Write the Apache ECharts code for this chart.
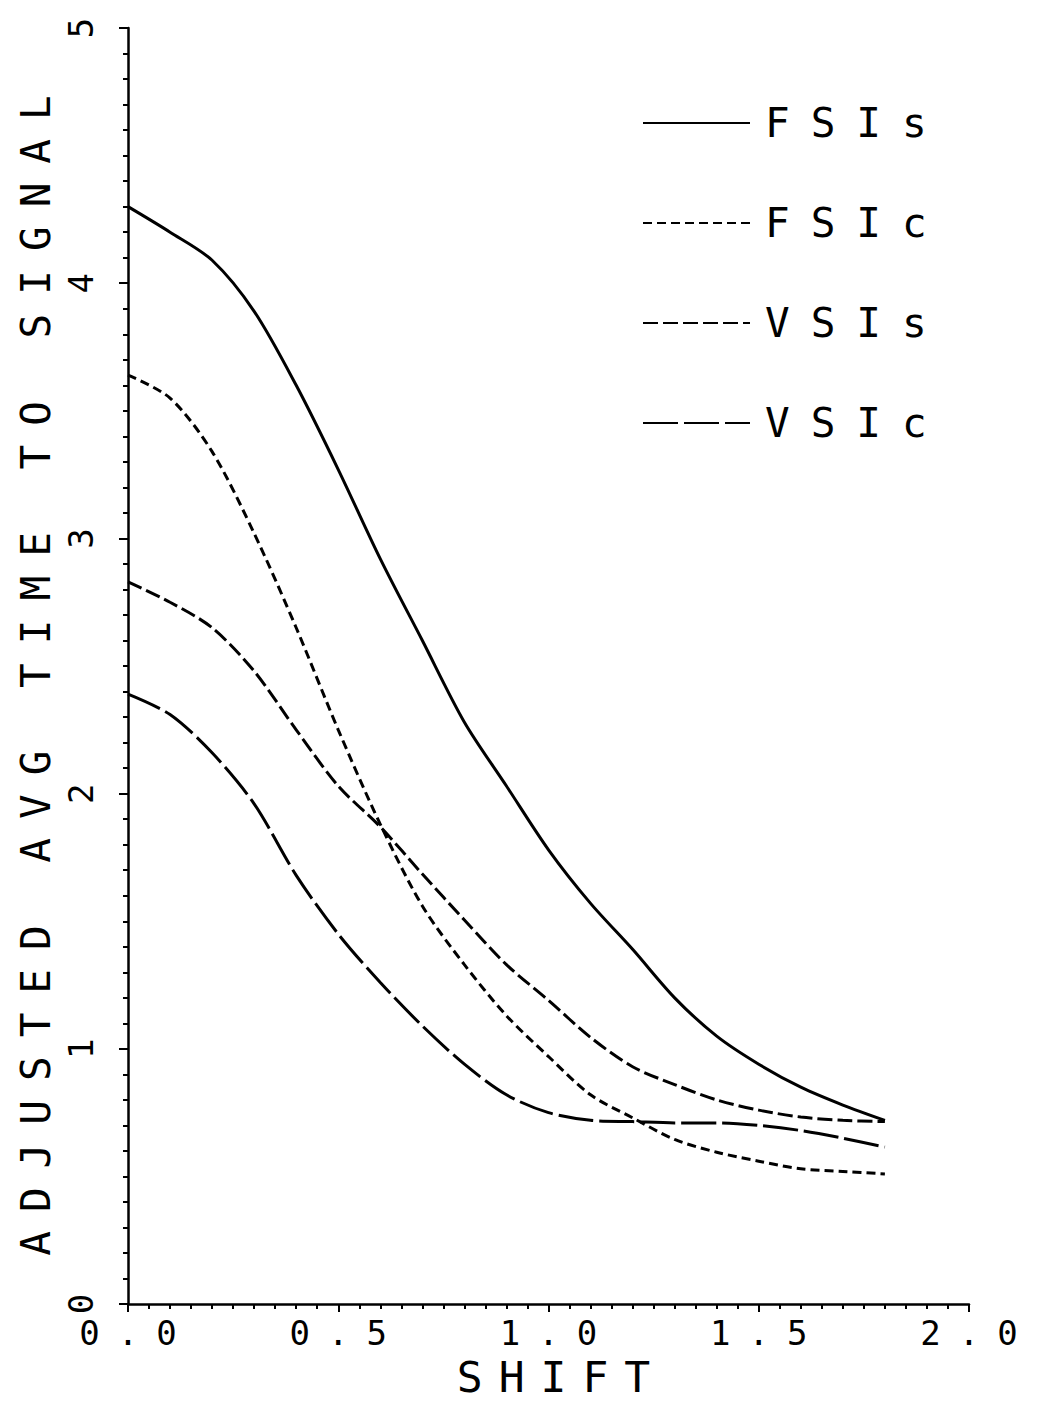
<!DOCTYPE html>
<html><head><meta charset="utf-8">
<script src="https://cdn.jsdelivr.net/npm/echarts@6/dist/echarts.min.js"></script>
<style>html,body{margin:0;padding:0;background:#fff}#c{width:1040px;height:1403px}</style>
</head><body><div id="c"></div>
<script>
// ---- data ----
const shift = [0.0,0.1,0.2,0.3,0.4,0.5,0.6,0.7,0.8,0.9,1.0,1.1,1.2,1.3,1.4,1.5,1.6,1.7,1.8];
const fsis = [4.30,4.20,4.09,3.89,3.60,3.27,2.92,2.60,2.28,2.03,1.78,1.57,1.39,1.20,1.05,0.94,0.85,0.78,0.72];
const fsic = [3.64,3.55,3.34,3.02,2.65,2.25,1.88,1.56,1.33,1.13,0.97,0.82,0.73,0.645,0.595,0.56,0.53,0.52,0.51];
const vsis = [2.83,2.75,2.65,2.48,2.25,2.03,1.87,1.685,1.505,1.33,1.19,1.045,0.93,0.86,0.80,0.76,0.733,0.72,0.715];
const vsic = [2.39,2.31,2.16,1.96,1.68,1.45,1.26,1.09,0.94,0.82,0.75,0.72,0.715,0.71,0.71,0.70,0.68,0.65,0.615];
const seriesNames = ['FSIs','FSIc','VSIs','VSIc'];
const xTickLabels = ['0.0','0.5','1.0','1.5','2.0'];
const yTickLabels = ['0','1','2','3','4','5'];
const xTitle = 'SHIFT';
const yTitle = 'ADJUSTED AVG TIME TO SIGNAL';

// ---- chart ----
const FONT = 'DejaVu Sans Mono';
const allValues = [fsis, fsic, vsis, vsic];
const dashTypes = ['solid', [9,5], [15,5], [35,6]];
const chart = echarts.init(document.getElementById('c'), null, {renderer:'svg', width:1040, height:1403});

const series = seriesNames.map((name, k) => ({
  name: name,
  type: 'line',
  data: shift.map((x, i) => [x, allValues[k][i]]),
  symbol: 'none',
  smooth: 0.3,
  lineStyle: {color:'#000', width:3, type: dashTypes[k]},
  itemStyle: {color:'#000'}
}));

chart.setOption({
  animation: false,
  backgroundColor: '#fff',
  grid: {left:128, right:71, top:28, bottom:87, containLabel:false},
  legend: {
    orient: 'vertical', left: 637, top: 97,
    itemWidth: 107, itemHeight: 14, itemGap: 58,
    data: seriesNames,
    itemStyle: {opacity: 0},
    textStyle: {fontFamily: FONT, fontSize: 41, color:'#000', padding:[0,0,0,10], lineHeight: 42}
  },
  xAxis: {
    type:'value', min:0, max:2, interval:0.5,
    name: xTitle, nameLocation:'middle', nameGap: 44,
    nameTextStyle: {fontFamily: FONT, fontSize: 43, color:'#000', padding:[0,0,0,26]},
    axisLine: {lineStyle:{color:'#000', width:2.5}},
    axisTick: {show:true, length:8, lineStyle:{color:'#000', width:2}},
    minorTick: {show:true, splitNumber:10, length:5, lineStyle:{color:'#000', width:2}},
    splitLine: {show:false},
    axisLabel: {fontFamily: FONT, fontSize: 34, color:'#000', margin: 12, padding:[0,0,0,18],
      formatter: v => xTickLabels[Math.round(v / 0.5)]}
  },
  yAxis: {
    type:'value', min:0, max:5, interval:1,
    name: yTitle, nameLocation:'middle', nameGap: 66, nameRotate: 90,
    nameTextStyle: {fontFamily: FONT, fontSize: 41, color:'#000'},
    axisLine: {lineStyle:{color:'#000', width:2.5}},
    axisTick: {show:true, length:9, lineStyle:{color:'#000', width:2}},
    minorTick: {show:true, splitNumber:10, length:5, lineStyle:{color:'#000', width:2}},
    splitLine: {show:false},
    axisLabel: {fontFamily: FONT, fontSize: 34, color:'#000', margin: 30, rotate: 90,
      formatter: v => yTickLabels[Math.round(v)]}
  },
  series: series
});

function applySpacing(){
  document.querySelectorAll('#c svg text').forEach(t => {
    const s = t.textContent;
    let ls = 0;
    if (seriesNames.includes(s)) ls = 21;
    else if (s === xTitle) ls = 16;
    else if (s === yTitle) ls = 19;
    else if (xTickLabels.includes(s)) ls = 18;
    t.style.letterSpacing = ls + 'px';
  });
}
applySpacing();
chart.on('finished', applySpacing);
</script>
</body></html>
